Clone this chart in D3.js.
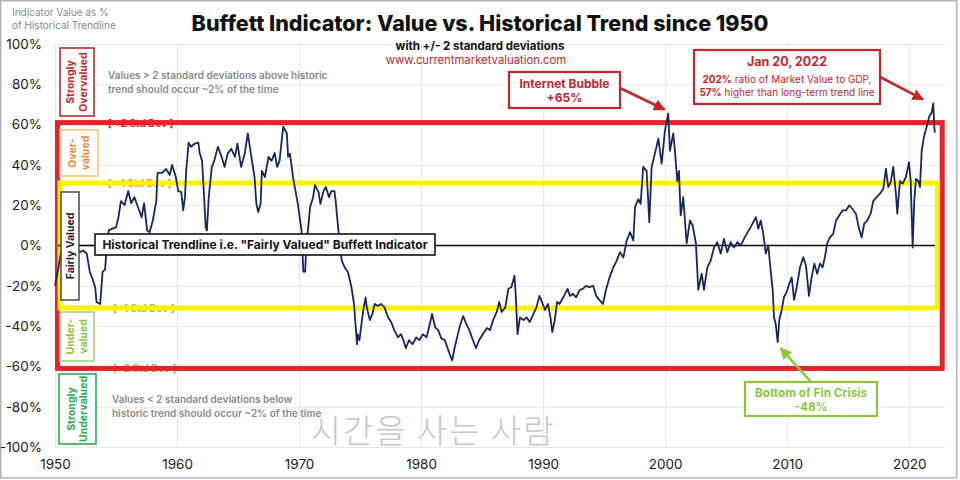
<!DOCTYPE html>
<html>
<head>
<meta charset="utf-8">
<script src="https://cdn.jsdelivr.net/npm/d3@7"></script>
<style>
  html, body { margin: 0; padding: 0; background: #fff; }
  svg { display: block; font-family: Inter, Lato, sans-serif; }
</style>
</head>
<body>
<div class="canvas"></div>
<script>
// chart data
const years = [
  1950.0, 1950.25, 1950.5, 1950.75, 1951.0, 1951.3, 1951.6, 1951.8, 1952.05, 1952.3,
  1952.6, 1952.85, 1953.1, 1953.3, 1953.4, 1953.7, 1953.8, 1953.9, 1954.1, 1954.2,
  1954.4, 1954.75, 1955.0, 1955.2, 1955.4, 1955.7, 1956.0, 1956.25, 1956.5, 1956.8,
  1957.1, 1957.3, 1957.55, 1957.75, 1958.0, 1958.3, 1958.4, 1958.8, 1959.1, 1959.4,
  1959.6, 1959.9, 1960.1, 1960.35, 1960.5, 1960.65, 1960.75, 1960.95, 1961.15, 1961.45,
  1961.75, 1961.85, 1962.05, 1962.2, 1962.35, 1962.45, 1962.6, 1962.85, 1963.05, 1963.35,
  1963.65, 1963.9, 1964.15, 1964.45, 1964.75, 1964.95, 1965.25, 1965.55, 1965.8, 1966.05,
  1966.35, 1966.5, 1966.65, 1966.85, 1966.95, 1967.2, 1967.5, 1967.75, 1968.0, 1968.2,
  1968.4, 1968.7, 1969.0, 1969.1, 1969.25, 1969.5, 1969.65, 1969.9, 1970.2, 1970.35,
  1970.5, 1970.6, 1970.75, 1970.9, 1971.15, 1971.3, 1971.6, 1971.75, 1972.0, 1972.2,
  1972.45, 1972.65, 1972.9, 1973.0, 1973.15, 1973.35, 1973.5, 1973.75, 1974.0, 1974.3,
  1974.5, 1974.75, 1974.8, 1974.95, 1975.15, 1975.3, 1975.45, 1975.55, 1975.8, 1976.0,
  1976.2, 1976.45, 1976.7, 1977.0, 1977.3, 1977.55, 1977.8, 1978.1, 1978.35, 1978.55,
  1978.75, 1979.0, 1979.3, 1979.6, 1979.85, 1980.15, 1980.45, 1980.65, 1980.9, 1981.15,
  1981.4, 1981.65, 1981.95, 1982.15, 1982.35, 1982.55, 1982.75, 1982.95, 1983.15, 1983.45,
  1983.7, 1983.95, 1984.25, 1984.5, 1984.75, 1985.05, 1985.4, 1985.65, 1985.9, 1986.2,
  1986.4, 1986.6, 1986.9, 1987.15, 1987.4, 1987.65, 1987.75, 1987.9, 1988.1, 1988.4,
  1988.65, 1988.9, 1989.2, 1989.45, 1989.7, 1989.9, 1990.15, 1990.4, 1990.6, 1990.75,
  1990.95, 1991.15, 1991.35, 1991.65, 1992.0, 1992.2, 1992.45, 1992.7, 1993.0, 1993.25,
  1993.5, 1993.8, 1994.1, 1994.35, 1994.6, 1994.9, 1995.15, 1995.45, 1995.75, 1996.03,
  1996.3, 1996.57, 1996.85, 1997.12, 1997.39, 1997.53, 1997.8, 1997.99, 1998.2, 1998.48,
  1998.7, 1998.89, 1999.16, 1999.44, 1999.71, 1999.98, 2000.25, 2000.39, 2000.66, 2000.8,
  2000.99, 2001.13, 2001.27, 2001.48, 2001.76, 2002.03, 2002.25, 2002.52, 2002.71, 2002.99,
  2003.18, 2003.45, 2003.73, 2004.0, 2004.27, 2004.55, 2004.82, 2005.09, 2005.37, 2005.64,
  2005.91, 2006.19, 2006.46, 2006.68, 2007.0, 2007.22, 2007.44, 2007.63, 2007.83, 2008.04,
  2008.24, 2008.45, 2008.59, 2008.81, 2008.92, 2009.06, 2009.22, 2009.35, 2009.55, 2009.73,
  2009.96, 2010.17, 2010.37, 2010.56, 2010.78, 2011.05, 2011.32, 2011.54, 2011.78, 2012.0,
  2012.22, 2012.46, 2012.68, 2012.9, 2013.09, 2013.28, 2013.5, 2013.77, 2014.0, 2014.27,
  2014.54, 2014.81, 2015.09, 2015.36, 2015.63, 2015.86, 2016.1, 2016.31, 2016.56, 2016.84,
  2017.05, 2017.33, 2017.6, 2017.87, 2018.09, 2018.28, 2018.48, 2018.69, 2018.91, 2019.02,
  2019.24, 2019.46, 2019.73, 2019.98, 2020.12, 2020.28, 2020.41, 2020.55, 2020.74, 2020.88,
  2021.02, 2021.21, 2021.43, 2021.64, 2021.84, 2021.97, 2022.05, 2022.1,
]
const values = [
  -20, -12, -3, 0, -3, -1, -4, -2, -3.3, -2.5,
  -4, -13, -17, -21, -28, -29, -21, -13, -12, -4,
  7.5, 8.5, 9, 14, 22, 20, 27, 21, 24, 19,
  14, 21, 7.5, 6.6, 12, 22, 36, 36, 38, 35,
  40, 34, 27, 26.5, 17.4, 24, 37, 51, 49, 50.6,
  51, 46, 42, 26, 9, 7.5, 24, 39, 42, 49,
  44, 39, 45.6, 48, 44, 50.6, 39, 45.6, 55.6, 45.6,
  34, 20.7, 16.6, 20.7, 37, 34, 44, 42, 46, 39,
  42, 59, 55.6, 44, 45.6, 34, 29, 20.7, 7.5, -13,
  -13, 1, 9, 19, 24, 30, 26.5, 20.7, 27, 29,
  24, 27, 27, 22, 12, 0, -7.5, -11, -13, -21,
  -29, -49, -44, -47, -37, -30.7, -25.7, -30.7, -37, -34,
  -29, -30, -29, -30.7, -35.7, -38, -42, -45.6, -44, -47,
  -51, -47, -49, -45.6, -47, -44, -45.6, -40.6, -34, -40.6,
  -42, -46, -47, -50.6, -54, -57, -50.6, -45.6, -40.6, -35,
  -39, -42, -47, -51, -47, -44, -41, -42, -37, -33,
  -28, -33, -30.7, -21.5, -20.7, -15, -24, -44, -35.7, -37,
  -35.7, -38, -34, -30.7, -25, -28, -32, -29, -35.7, -43,
  -37, -28, -29, -25.7, -21.5, -25, -24, -25.7, -22, -21.5,
  -20, -20.7, -20, -25, -27, -29, -22, -15.8, -10.8, -7.5,
  -3.3, -6, 2.5, 6.6, 2.5, 19, 23, 20.7, 39, 37,
  11.6, 39, 45.6, 53, 40.6, 57, 65.5, 47, 55.6, 47,
  32, 37, 15, 24, 1, 12.4, 10, 1, -22, -14,
  -22, -11, -7.5, -1, 1.6, -4, 3.3, -3.3, 1.6, -1,
  1.6, 0, 3.3, 5.8, 9, 11.6, 14, 8.3, 12.4, 5.8,
  -4, 0, -9, -22, -35.7, -39, -48, -37, -32, -25.7,
  -23, -19, -15.8, -27, -20.7, -10.8, -5.8, -10, -25, -15.8,
  -9, -14, -9, -10.8, -5.8, 1, 4, 5.8, 12.4, 15,
  17.4, 17.4, 20, 18, 15.8, 9, 4, 10.8, 12.4, 15.8,
  22, 24, 25.7, 28, 38, 29, 31.5, 39, 25.7, 15.8,
  32, 30.7, 34, 41.4, 32, -1, 22, 33, 32, 29,
  47, 54, 59, 64, 66, 70.5, 59, 56,
]
const xTicks = [1950, 1960, 1970, 1980, 1990, 2000, 2010, 2020]
const yTicks = [-100, -80, -60, -40, -20, 0, 20, 40, 60, 80, 100]
const stdDevLevels = [61, 31, -31, -61]
const stdDevLabels = ['[ +2 Std Dev ]', '[ +1 Std Dev ]', '[ -1 Std Dev ]', '[ -2 Std Dev ]']

const data = years.map((d, i) => ({ year: d, value: values[i] }))

// chart dimensions
const dimensions = {
  margin: { top: 44, right: 15, bottom: 33, left: 55 },
  chartWidth: 960,
  chartHeight: 480,
}
const graphWidth =
  dimensions.chartWidth - dimensions.margin.left - dimensions.margin.right
const graphHeight =
  dimensions.chartHeight - dimensions.margin.top - dimensions.margin.bottom

const red = '#e8212a'
const darkRed = '#c4262e'
const yellow = '#fff200'
const navy = '#17285e'
const gray = '#8a8a8a'
const lightGreen = '#8cc63f'

const svg = d3
  .select('.canvas')
  .append('svg')
  .attr('width', dimensions.chartWidth)
  .attr('height', dimensions.chartHeight)

// arrow heads
const defs = svg.append('defs')
const addMarker = (id, color) =>
  defs
    .append('marker')
    .attr('id', id)
    .attr('viewBox', '0 0 10 10')
    .attr('refX', 9)
    .attr('refY', 5)
    .attr('markerWidth', 4.5)
    .attr('markerHeight', 4.5)
    .attr('orient', 'auto')
    .append('path')
    .attr('d', 'M0,0 L10,5 L0,10 z')
    .attr('fill', color)
addMarker('arrow-red', darkRed)
addMarker('arrow-green', lightGreen)

// outer frame
svg
  .append('rect')
  .attr('x', 0.75)
  .attr('y', 0.75)
  .attr('width', 956)
  .attr('height', 477)
  .attr('fill', 'none')
  .attr('stroke', '#b4b4b4')
  .attr('stroke-width', 1.5)

// watermark (behind everything in the plot)
svg
  .append('text')
  .attr('x', 433)
  .attr('y', 443)
  .attr('text-anchor', 'middle')
  .attr('font-size', 33)
  .attr('font-family', "'Noto Sans CJK KR', sans-serif")
  .attr('font-weight', 300)
  .attr('letter-spacing', 2)
  .attr('fill', '#c6c6c6')
  .text('시간을 사는 사람')

const graph = svg
  .append('g')
  .attr(
    'transform',
    `translate(${dimensions.margin.left}, ${dimensions.margin.top})`
  )

// scales
const x = d3.scaleLinear().domain([1950, 2022.93]).range([0, graphWidth])
const y = d3.scaleLinear().domain([-100, 100]).range([graphHeight, 0])

// axes with grid lines
const xAxis = d3
  .axisBottom(x)
  .tickValues(xTicks)
  .tickFormat(d3.format('d'))
  .tickSize(-graphHeight)
  .tickPadding(12)
const yAxis = d3
  .axisLeft(y)
  .tickValues(yTicks)
  .tickFormat((d) => `${d}%`)
  .tickSize(-graphWidth)
  .tickPadding(13)

const xAxisGroup = graph
  .append('g')
  .attr('transform', `translate(0, ${graphHeight})`)
  .call(xAxis)
const yAxisGroup = graph.append('g').call(yAxis)

;[xAxisGroup, yAxisGroup].forEach((g) => {
  g.select('.domain').remove()
  g.selectAll('line').attr('stroke', '#e7e7e7').attr('stroke-width', 1)
  g.selectAll('text')
    .attr('fill', '#1a1a1a')
    .attr('font-size', 13.5)
    .attr('font-family', 'Inter, Lato, sans-serif')
})

// std dev labels (mostly hidden under the band lines)
const stdColors = [red, '#f39a2c', lightGreen, lightGreen]
graph
  .selectAll('.sd-label')
  .data(stdDevLevels)
  .enter()
  .append('text')
  .attr('x', (d, i) => (i < 2 ? 53 : 58))
  .attr('y', (d) => y(d) + 4)
  .attr('font-size', 10)
  .attr('font-weight', 700)
  .attr('fill', (d, i) => stdColors[i])
  .text((d, i) => stdDevLabels[i])

// red +/- 2 std dev box, yellow +/- 1 std dev box
graph
  .append('rect')
  .attr('x', x(1950) + 2.5)
  .attr('y', y(stdDevLevels[0]))
  .attr('width', x(2022.7) - x(1950) - 2.5)
  .attr('height', y(stdDevLevels[3]) - y(stdDevLevels[0]))
  .attr('fill', 'none')
  .attr('stroke', red)
  .attr('stroke-width', 5)
graph
  .append('rect')
  .attr('x', x(1950) + 5)
  .attr('y', y(stdDevLevels[1]))
  .attr('width', x(2022.3) - x(1950) - 5)
  .attr('height', y(stdDevLevels[2]) - y(stdDevLevels[1]))
  .attr('fill', 'none')
  .attr('stroke', yellow)
  .attr('stroke-width', 5)

// trend line at 0%
graph
  .append('line')
  .attr('x1', x(1950) + 3)
  .attr('x2', x(2022.1))
  .attr('y1', y(0))
  .attr('y2', y(0))
  .attr('stroke', '#111')
  .attr('stroke-width', 1.3)

// indicator line
const line = d3
  .line()
  .x((d) => x(d.year))
  .y((d) => y(d.value))

graph
  .append('path')
  .datum(data)
  .attr('fill', 'none')
  .attr('stroke', navy)
  .attr('stroke-width', 1.8)
  .attr('stroke-linejoin', 'round')
  .attr('d', line)

// rotated zone labels on the left
const zoneBox = (x0, y0, w, h, color, textColor, lines) => {
  svg
    .append('rect')
    .attr('x', x0)
    .attr('y', y0)
    .attr('width', w)
    .attr('height', h)
    .attr('fill', '#fff')
    .attr('stroke', color)
    .attr('stroke-width', 1.6)
  const cx = x0 + w / 2
  const cy = y0 + h / 2
  const t = svg
    .append('text')
    .attr('transform', `translate(${cx}, ${cy}) rotate(-90)`)
    .attr('text-anchor', 'middle')
    .attr('font-size', 10.5)
    .attr('font-weight', 700)
    .attr('fill', textColor)
  lines.forEach((l, i) => {
    t.append('tspan')
      .attr('x', 0)
      .attr('y', (i - (lines.length - 1) / 2) * 12.5 + 3.5)
      .text(l)
  })
}
zoneBox(60, 48, 34, 68, darkRed, darkRed, ['Strongly', 'Overvalued'])
zoneBox(60, 130, 38, 46, '#f7c27a', '#f0883a', ['Over-', 'valued'])
zoneBox(61, 192, 18, 108, '#555', '#222', ['Fairly Valued'])
zoneBox(60, 312, 34, 49, '#a6d37a', lightGreen, ['Under-', 'valued'])
zoneBox(59, 374, 37, 70, '#2eaa50', '#2eaa50', ['Strongly', 'Undervalued'])

// connector and trend label box
svg
  .append('line')
  .attr('x1', 79)
  .attr('x2', 95)
  .attr('y1', y(0) + dimensions.margin.top)
  .attr('y2', y(0) + dimensions.margin.top)
  .attr('stroke', '#111')
  .attr('stroke-width', 1.3)
svg
  .append('rect')
  .attr('x', 95)
  .attr('y', 234)
  .attr('width', 340)
  .attr('height', 21)
  .attr('fill', '#fff')
  .attr('stroke', '#111')
  .attr('stroke-width', 1.6)
svg
  .append('text')
  .attr('x', 265)
  .attr('y', 249)
  .attr('text-anchor', 'middle')
  .attr('font-size', 12)
  .attr('font-weight', 700)
  .attr('fill', '#111')
  .text('Historical Trendline i.e. "Fairly Valued" Buffett Indicator')

// explanatory gray notes
const note = (x0, y0, lines) => {
  lines.forEach((l, i) => {
    svg
      .append('text')
      .attr('x', x0)
      .attr('y', y0 + i * 13.5)
      .attr('font-size', 10)
      .attr('font-weight', 600)
      .attr('fill', gray)
      .text(l)
  })
}
note(108, 79, [
  'Values > 2 standard deviations above historic',
  'trend should occur ~2% of the time',
])
note(112, 403, [
  'Values < 2 standard deviations below',
  'historic trend should occur ~2% of the time',
])

// y axis title
svg
  .append('text')
  .attr('font-size', 10)
  .attr('fill', gray)
  .selectAll('tspan')
  .data(['Indicator Value as %', 'of Historical Trendline'])
  .enter()
  .append('tspan')
  .attr('x', 12)
  .attr('y', (d, i) => 16 + i * 13)
  .text((d) => d)

// titles
svg
  .append('text')
  .attr('x', 480)
  .attr('y', 31)
  .attr('text-anchor', 'middle')
  .attr('font-size', 21.5)
  .attr('font-weight', 800)
  .attr('fill', '#111')
  .text('Buffett Indicator: Value vs. Historical Trend since 1950')
svg
  .append('text')
  .attr('x', 480)
  .attr('y', 50)
  .attr('text-anchor', 'middle')
  .attr('font-size', 11.5)
  .attr('font-weight', 700)
  .attr('fill', '#111')
  .text('with +/- 2 standard deviations')
svg
  .append('text')
  .attr('x', 476)
  .attr('y', 63.5)
  .attr('text-anchor', 'middle')
  .attr('font-size', 11.3)
  .attr('fill', darkRed)
  .text('www.currentmarketvaluation.com')

// callout boxes
const callout = (x0, y0, w, h, color) =>
  svg
    .append('rect')
    .attr('x', x0)
    .attr('y', y0)
    .attr('width', w)
    .attr('height', h)
    .attr('fill', '#fff')
    .attr('stroke', color)
    .attr('stroke-width', 2.2)

const arrow = (x1, y1, x2, y2, color, marker) =>
  svg
    .append('line')
    .attr('x1', x1)
    .attr('y1', y1)
    .attr('x2', x2)
    .attr('y2', y2)
    .attr('stroke', color)
    .attr('stroke-width', 2.6)
    .attr('marker-end', `url(#${marker})`)

const px = (yr) => x(yr) + dimensions.margin.left
const py = (v) => y(v) + dimensions.margin.top

const centered = (cx, cy, size, weight, color, txt) =>
  svg
    .append('text')
    .attr('x', cx)
    .attr('y', cy)
    .attr('text-anchor', 'middle')
    .attr('font-size', size)
    .attr('font-weight', weight)
    .attr('fill', color)
    .text(txt)

// internet bubble
callout(509, 72, 111, 36, darkRed)
centered(564.5, 88, 12, 700, darkRed, 'Internet Bubble')
centered(564.5, 102, 12, 700, darkRed, '+65%')
arrow(620, 88, px(2000.2) - 3, py(65.5) - 4, darkRed, 'arrow-red')

// latest reading
callout(694, 50, 186, 54, darkRed)
centered(787, 66, 12.5, 700, darkRed, 'Jan 20, 2022')
const l2 = centered(787, 83, 10, 400, darkRed, '')
l2.append('tspan').attr('font-weight', 700).text('202%')
l2.append('tspan').text(' ratio of Market Value to GDP,')
const l3 = centered(787, 96, 10, 400, darkRed, '')
l3.append('tspan').attr('font-weight', 700).text('57%')
l3.append('tspan').text(' higher than long-term trend line')
arrow(880, 77, px(2021.95) - 10, py(70.5) - 4, darkRed, 'arrow-red')

// financial crisis bottom
callout(745, 382, 132, 34, lightGreen)
centered(811, 397, 11.8, 700, lightGreen, 'Bottom of Fin Crisis')
centered(811, 411, 11.8, 700, lightGreen, '-48%')
arrow(811, 382, px(2009.3) + 2, py(-48) + 6, lightGreen, 'arrow-green')
</script>
</body>
</html>
